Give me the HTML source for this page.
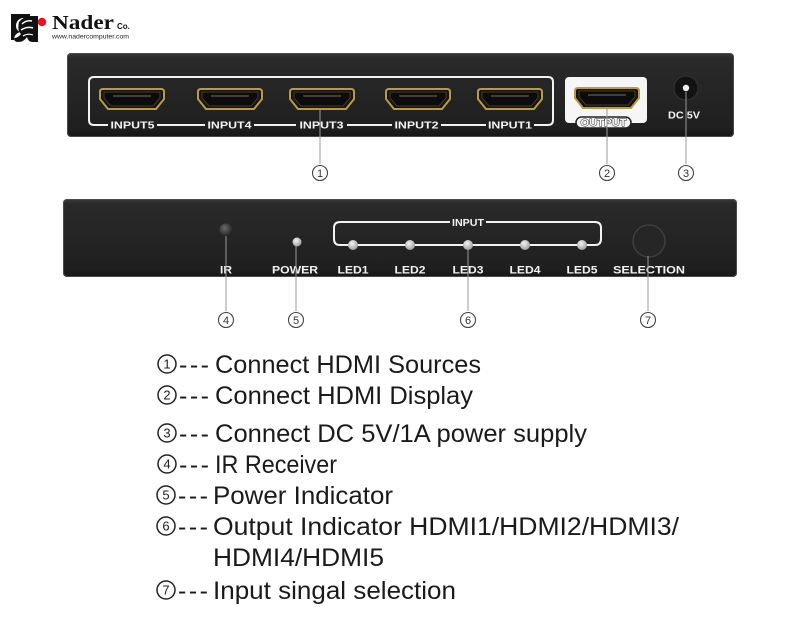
<!DOCTYPE html>
<html><head><meta charset="utf-8">
<style>
html,body{margin:0;padding:0;background:#fff;}
svg{display:block;}
</style></head>
<body>
<svg width="800" height="621" viewBox="0 0 800 621" xmlns="http://www.w3.org/2000/svg">
<defs>
  <linearGradient id="pan" x1="0" y1="0" x2="0" y2="1">
    <stop offset="0" stop-color="#3a3a3a"/>
    <stop offset="0.06" stop-color="#2a2a2a"/>
    <stop offset="0.9" stop-color="#1f1f1f"/>
    <stop offset="1" stop-color="#161616"/>
  </linearGradient>
  <radialGradient id="led" cx="0.4" cy="0.35" r="0.7">
    <stop offset="0" stop-color="#f4f4f4"/>
    <stop offset="1" stop-color="#9a9a9a"/>
  </radialGradient>
  <radialGradient id="ir" cx="0.4" cy="0.35" r="0.7">
    <stop offset="0" stop-color="#6a6a6a"/>
    <stop offset="1" stop-color="#1c1c1c"/>
  </radialGradient>
  <g id="port">
    <path d="M3,0 L61,0 Q64,0 64,3 L64,10 L56,20 L8,20 L0,10 L0,3 Q0,0 3,0 Z" fill="#141414" stroke="#b89a48" stroke-width="2"/>
    <path d="M4,3 L60,3 L60,9 L53,17 L11,17 L4,9 Z" fill="#0c0c0c" stroke="#5a4a22" stroke-width="0.8"/>
    <line x1="13" y1="7" x2="51" y2="7" stroke="#5c5c5c" stroke-width="1.2"/>
  </g>
</defs>

<!-- Logo -->
<g>
  <path d="M11,14 L30,14 L30,18 L22,18 Q16,20 16,26 Q16,30 20,32 Q14,34 14,40 L11,40 Z" fill="#111"/>
  <path d="M19,22 Q24,16 31,16 L38,16 L38,42 L33,42 Q28,42 27,37 Q24,42 18,42 Q14,42 14,38 Q18,38 21,34 Q17,31 19,22 Z" fill="#111"/>
  <path d="M22,24 Q26,20 32,21" stroke="#fff" stroke-width="1.5" fill="none"/>
  <path d="M21,30 Q27,26 33,28" stroke="#fff" stroke-width="1.5" fill="none"/>
  <path d="M23,36 Q28,33 33,35" stroke="#fff" stroke-width="1.2" fill="none"/>
  <circle cx="42" cy="22" r="4.2" fill="#e8141b"/>
  <text x="52" y="29" font-family="Liberation Serif, serif" font-weight="bold" font-size="20" fill="#111" textLength="62" lengthAdjust="spacingAndGlyphs">Nader</text>
  <text x="117" y="29" font-family="Liberation Sans, sans-serif" font-weight="bold" font-size="8" fill="#111">Co.</text>
  <text x="52" y="38.5" font-family="Liberation Sans, sans-serif" font-size="6.5" fill="#222" textLength="77" lengthAdjust="spacingAndGlyphs">www.nadercomputer.com</text>
</g>

<!-- Top panel -->
<rect x="67" y="53" width="667" height="84" rx="4" fill="url(#pan)"/>
<rect x="67.5" y="53.5" width="666" height="83" rx="4" fill="none" stroke="#4a4a4a" stroke-width="1"/>

<!-- Input bracket -->
<g stroke="#f2f2f2" stroke-width="2" fill="none">
  <path d="M94,125 Q89,125 89,120 L89,82 Q89,77 94,77 L548,77 Q553,77 553,82 L553,120 Q553,125 548,125"/>
  <line x1="94" y1="125" x2="108" y2="125"/>
  <line x1="157" y1="125" x2="205" y2="125"/>
  <line x1="254" y1="125" x2="296" y2="125"/>
  <line x1="347" y1="125" x2="392" y2="125"/>
  <line x1="441" y1="125" x2="486" y2="125"/>
  <line x1="534" y1="125" x2="548" y2="125"/>
</g>
<use href="#port" x="100" y="89"/>
<use href="#port" x="198" y="89"/>
<use href="#port" x="290" y="89"/>
<use href="#port" x="386" y="89"/>
<use href="#port" x="478" y="89"/>
<g font-family="Liberation Sans, sans-serif" font-weight="bold" font-size="10.5" fill="#f4f4f4" text-anchor="middle">
  <text x="132.5" y="128.5" textLength="44" lengthAdjust="spacingAndGlyphs">INPUT5</text>
  <text x="229.5" y="128.5" textLength="44" lengthAdjust="spacingAndGlyphs">INPUT4</text>
  <text x="321.5" y="128.5" textLength="44" lengthAdjust="spacingAndGlyphs">INPUT3</text>
  <text x="416.5" y="128.5" textLength="44" lengthAdjust="spacingAndGlyphs">INPUT2</text>
  <text x="510" y="128.5" textLength="44" lengthAdjust="spacingAndGlyphs">INPUT1</text>
</g>

<!-- Output -->
<rect x="565" y="77" width="82" height="46" rx="4" fill="#f6f6f6"/>
<use href="#port" x="575" y="88"/>
<rect x="576" y="117" width="55" height="11" rx="5.5" fill="#f4f4f4" stroke="#222" stroke-width="1.5"/>
<text x="603.5" y="126" font-family="Liberation Sans, sans-serif" font-weight="bold" font-size="10" fill="#fff" stroke="#222" stroke-width="0.9" text-anchor="middle" textLength="46" lengthAdjust="spacingAndGlyphs" paint-order="stroke">OUTPUT</text>

<!-- DC jack -->
<circle cx="686" cy="88" r="12" fill="#121212" stroke="#333" stroke-width="1"/>
<circle cx="686" cy="88" r="3.2" fill="#f0f0f0"/>
<text x="684" y="118.5" font-family="Liberation Sans, sans-serif" font-weight="bold" font-size="10.5" fill="#f2f2f2" text-anchor="middle" textLength="32" lengthAdjust="spacingAndGlyphs">DC 5V</text>

<!-- top connectors -->
<g stroke="#9a9a9a" stroke-width="1">
  <line x1="320" y1="108" x2="320" y2="164"/>
  <line x1="607" y1="108" x2="607" y2="164"/>
  <line x1="686" y1="92" x2="686" y2="164"/>
</g>
<g fill="none" stroke="#444" stroke-width="1.1">
  <circle cx="320" cy="173" r="7.5"/>
  <circle cx="607" cy="173" r="7.5"/>
  <circle cx="686" cy="173" r="7.5"/>
</g>
<g font-family="Liberation Sans, sans-serif" font-size="11" fill="#333" text-anchor="middle">
  <text x="320" y="177">1</text>
  <text x="607" y="177">2</text>
  <text x="686" y="177">3</text>
</g>

<!-- Bottom panel -->
<rect x="63" y="199" width="674" height="78" rx="4" fill="url(#pan)"/>
<rect x="63.5" y="199.5" width="673" height="77" rx="4" fill="none" stroke="#4a4a4a" stroke-width="1"/>

<!-- IR and power -->
<circle cx="226" cy="230" r="6.5" fill="url(#ir)"/>
<circle cx="297" cy="242" r="4.5" fill="url(#led)"/>

<!-- INPUT bracket -->
<g stroke="#f2f2f2" stroke-width="2" fill="none">
  <path d="M450,222 L340,222 Q334,222 334,228 L334,239 Q334,245 340,245 L595,245 Q601,245 601,239 L601,228 Q601,222 595,222 L486,222"/>
</g>
<text x="468" y="226" font-family="Liberation Sans, sans-serif" font-weight="bold" font-size="10.5" fill="#f4f4f4" text-anchor="middle" textLength="32" lengthAdjust="spacingAndGlyphs">INPUT</text>
<g fill="url(#led)">
  <circle cx="353" cy="245" r="5"/>
  <circle cx="410" cy="245" r="5"/>
  <circle cx="468" cy="245" r="5"/>
  <circle cx="525" cy="245" r="5"/>
  <circle cx="582" cy="245" r="5"/>
</g>

<!-- Selection button -->
<circle cx="649" cy="241" r="16" fill="#262626" stroke="#3e3e3e" stroke-width="1.5"/>

<g font-family="Liberation Sans, sans-serif" font-weight="bold" font-size="11" fill="#f2f2f2" text-anchor="middle">
  <text x="226" y="273.5" textLength="12" lengthAdjust="spacingAndGlyphs">IR</text>
  <text x="295" y="273.5" textLength="46" lengthAdjust="spacingAndGlyphs">POWER</text>
  <text x="353" y="273.5" textLength="31" lengthAdjust="spacingAndGlyphs">LED1</text>
  <text x="410" y="273.5" textLength="31" lengthAdjust="spacingAndGlyphs">LED2</text>
  <text x="468" y="273.5" textLength="31" lengthAdjust="spacingAndGlyphs">LED3</text>
  <text x="525" y="273.5" textLength="31" lengthAdjust="spacingAndGlyphs">LED4</text>
  <text x="582" y="273.5" textLength="31" lengthAdjust="spacingAndGlyphs">LED5</text>
  <text x="649" y="273.5" textLength="72" lengthAdjust="spacingAndGlyphs">SELECTION</text>
</g>

<!-- bottom connectors -->
<g stroke="#9a9a9a" stroke-width="1">
  <line x1="226" y1="236" x2="226" y2="311"/>
  <line x1="296" y1="246" x2="296" y2="311"/>
  <line x1="468" y1="250" x2="468" y2="311"/>
  <line x1="648" y1="256" x2="648" y2="311"/>
</g>
<g fill="none" stroke="#444" stroke-width="1.1">
  <circle cx="226" cy="320" r="7.5"/>
  <circle cx="296" cy="320" r="7.5"/>
  <circle cx="468" cy="320" r="7.5"/>
  <circle cx="648" cy="320" r="7.5"/>
</g>
<g font-family="Liberation Sans, sans-serif" font-size="11" fill="#333" text-anchor="middle">
  <text x="226" y="324">4</text>
  <text x="296" y="324">5</text>
  <text x="468" y="324">6</text>
  <text x="648" y="324">7</text>
</g>

<!-- Legend list -->
<g fill="none" stroke="#222" stroke-width="1.5">
  <circle cx="167" cy="364" r="9"/>
  <circle cx="167" cy="395" r="9"/>
  <circle cx="167" cy="433" r="9"/>
  <circle cx="167" cy="464" r="9"/>
  <circle cx="166" cy="495" r="9"/>
  <circle cx="166" cy="526" r="9"/>
  <circle cx="166" cy="590" r="9"/>
</g>
<g font-family="Liberation Sans, sans-serif" font-size="13" fill="#222" text-anchor="middle">
  <text x="167" y="368.5">1</text>
  <text x="167" y="399.5">2</text>
  <text x="167" y="437.5">3</text>
  <text x="167" y="468.5">4</text>
  <text x="166" y="499.5">5</text>
  <text x="166" y="530.5">6</text>
  <text x="166" y="594.5">7</text>
</g>
<g font-family="Liberation Sans, sans-serif" font-size="25" fill="#1a1a1a">
  <text x="179" y="373" letter-spacing="2.5">---</text>
  <text x="215" y="373" textLength="266" lengthAdjust="spacingAndGlyphs">Connect HDMI Sources</text>
  <text x="179" y="404" letter-spacing="2.5">---</text>
  <text x="215" y="404" textLength="258" lengthAdjust="spacingAndGlyphs">Connect HDMI Display</text>
  <text x="179" y="442" letter-spacing="2.5">---</text>
  <text x="215" y="442" textLength="372" lengthAdjust="spacingAndGlyphs">Connect DC 5V/1A power supply</text>
  <text x="179" y="473" letter-spacing="2.5">---</text>
  <text x="215" y="473" textLength="122" lengthAdjust="spacingAndGlyphs">IR Receiver</text>
  <text x="178" y="504" letter-spacing="2.5">---</text>
  <text x="213" y="504" textLength="180" lengthAdjust="spacingAndGlyphs">Power Indicator</text>
  <text x="178" y="535" letter-spacing="2.5">---</text>
  <text x="213" y="535" textLength="466" lengthAdjust="spacingAndGlyphs">Output Indicator HDMI1/HDMI2/HDMI3/</text>
  <text x="213" y="566" textLength="171" lengthAdjust="spacingAndGlyphs">HDMI4/HDMI5</text>
  <text x="178" y="599" letter-spacing="2.5">---</text>
  <text x="213" y="599" textLength="243" lengthAdjust="spacingAndGlyphs">Input singal selection</text>
</g>
</svg>
</body></html>
